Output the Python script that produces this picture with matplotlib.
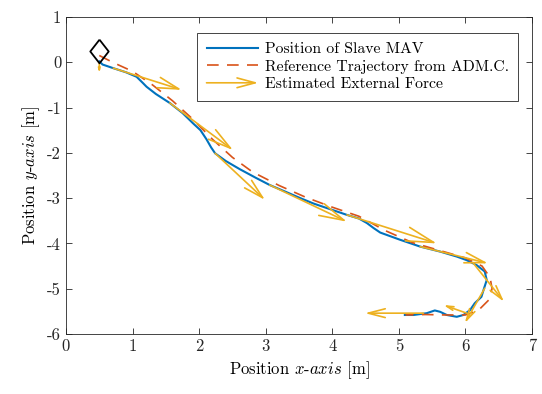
import numpy as np
import matplotlib
matplotlib.use("Agg")
import matplotlib.pyplot as plt
from matplotlib.patches import FancyArrowPatch
from matplotlib.legend_handler import HandlerBase
from matplotlib.lines import Line2D

plt.rcParams['font.family'] = 'serif'
plt.rcParams['font.serif'] = ['cmr10']
plt.rcParams['mathtext.fontset'] = 'cm'
plt.rcParams['axes.unicode_minus'] = False
plt.rcParams['axes.formatter.use_mathtext'] = False

# ---- data ----
blue_x = [0.50, 0.55, 0.71, 0.90, 1.06, 1.15, 1.21, 1.35, 1.56, 1.75, 1.91, 2.02, 2.11, 2.18, 2.24,
          2.40, 2.61, 2.85, 3.06, 3.30, 3.52, 3.72, 3.92, 4.22, 4.40, 4.52, 4.62, 4.72, 5.02, 5.32,
          5.62, 5.87, 6.02, 6.17, 6.29, 6.32, 6.28, 6.24, 6.14, 6.07, 5.97, 5.87, 5.72, 5.62, 5.54,
          5.42, 5.22, 5.09]
blue_y = [0.02, -0.05, -0.13, -0.22, -0.32, -0.45, -0.54, -0.70, -0.90, -1.12, -1.35, -1.50, -1.70, -1.88, -2.01,
          -2.18, -2.36, -2.55, -2.71, -2.86, -3.00, -3.12, -3.22, -3.37, -3.45, -3.55, -3.66, -3.76, -3.92, -4.07,
          -4.18, -4.29, -4.37, -4.48, -4.62, -4.81, -4.99, -5.18, -5.32, -5.47, -5.58, -5.62, -5.58, -5.51, -5.48,
          -5.54, -5.58, -5.58]

ref_x = [0.50, 0.70, 1.00, 1.30, 1.60, 1.90, 2.20, 2.50, 2.80, 3.20, 3.60, 4.00, 4.40, 4.80, 5.20,
         5.60, 6.00, 6.25, 6.37, 6.40, 6.35, 6.20, 6.00, 5.70, 5.40, 5.10]
ref_y = [0.15, 0.00, -0.20, -0.50, -0.85, -1.25, -1.70, -2.10, -2.42, -2.72, -2.98, -3.20, -3.40, -3.72, -3.98,
         -4.15, -4.32, -4.50, -4.75, -5.00, -5.25, -5.47, -5.58, -5.58, -5.57, -5.58]

force_x = [0.50, 0.71, 1.56, 2.24, 3.06, 4.22, 5.32, 6.12, 6.29, 6.02, 5.37]
force_y = [-0.02, -0.13, -0.90, -2.01, -2.71, -3.37, -4.07, -4.44, -4.99, -5.54, -5.54]
force_u = [0.00, 1.03, 0.95, 0.75, 1.16, 1.35, 1.02, 0.46, -0.30, -0.35, -0.88]
force_v = [-0.22, -0.48, -1.04, -1.03, -0.81, -0.63, -0.37, -0.85, -0.77, 0.18, 0.00]

start_x = [0.5]
start_y = [0.25]

x_ticks = [0, 1, 2, 3, 4, 5, 6, 7]
y_ticks = [1, 0, -1, -2, -3, -4, -5, -6]

labels = ['Position of Slave MAV', 'Reference Trajectory from ADM.C.', 'Estimated External Force']

c_blue = '#0072BD'
c_red = '#D95319'
c_yel = '#EDB120'

fig = plt.figure(figsize=(5.42, 3.94), dpi=100)
ax = fig.add_axes([66/542, 1-334/394, (532-66)/542, (334-17)/394])
ax.set_xlim(0, 7)
ax.set_ylim(-6, 1)

ax.plot(blue_x, blue_y, color=c_blue, lw=1.5, zorder=3)
ax.plot(ref_x, ref_y, color=c_red, lw=1.2, dashes=(7, 5), zorder=4)

fig.canvas.draw()
for x0, y0, u, v in zip(force_x, force_y, force_u, force_v):
    p0 = ax.transData.transform((x0, y0))
    p1 = ax.transData.transform((x0 + u, y0 + v))
    L = np.hypot(*(p1 - p0)) * 72 / fig.dpi  # points
    hl = 0.29 * L / 10
    hw = 0.075 * L / 10
    ax.annotate('', xy=(x0 + u, y0 + v), xytext=(x0, y0),
                arrowprops=dict(arrowstyle=f'->,head_length={hl:.3f},head_width={hw:.3f}',
                                color=c_yel, lw=1.2, shrinkA=0, shrinkB=0, mutation_scale=10),
                zorder=5)

diamond = [(0, 1), (0.78, 0), (0, -1), (-0.78, 0), (0, 1)]
ax.plot(start_x, start_y, marker=diamond, ms=17, mfc='none', mec='black', mew=1.3, ls='none', zorder=6)

ax.set_xticks(x_ticks)
ax.set_yticks(y_ticks)
ax.set_yticklabels([str(t) for t in y_ticks])
ax.tick_params(direction='in', top=True, right=True, labelsize=12, length=4, width=0.6, colors='#262626', labelcolor='#262626')
for s in ax.spines.values():
    s.set_linewidth(0.6)
    s.set_color('#262626')

ax.set_xlabel(r'Position $x$-$axis$ [m]', fontsize=12)
ax.set_ylabel(r'Position $y$-$axis$ [m]', fontsize=12)


class HandlerArrow(HandlerBase):
    def create_artists(self, legend, orig_handle, xdescent, ydescent, width, height, fontsize, trans):
        y = height / 2 - ydescent
        p = FancyArrowPatch((-xdescent, y), (-xdescent + width, y),
                            arrowstyle='->,head_length=1.3,head_width=0.35',
                            mutation_scale=10, color=c_yel, lw=1.2,
                            shrinkA=0, shrinkB=0, transform=trans)
        return [p]


h1 = Line2D([], [], color=c_blue, lw=1.5)
h2 = Line2D([], [], color=c_red, lw=1.2, dashes=(7, 5))
h3 = Line2D([], [], color=c_yel, lw=1.2)
leg = ax.legend([h1, h2, h3], labels, handler_map={h3: HandlerArrow()},
                loc='upper right', bbox_to_anchor=(518/542, 1-33/394), bbox_transform=fig.transFigure,
                borderaxespad=0, fancybox=False, framealpha=1, edgecolor='#262626',
                fontsize=11.3, handlelength=3.3, handletextpad=0.4, labelspacing=0.22,
                borderpad=0.6)
leg.get_frame().set_linewidth(0.6)

fig.savefig('out.png', dpi=100)
